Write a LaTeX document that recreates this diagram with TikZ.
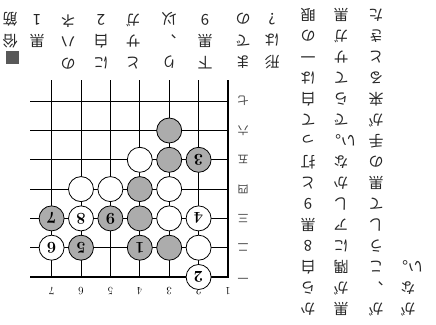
\documentclass[tikz,border=0pt]{standalone}
\usepackage{fontspec}
\newfontfamily\jp{Noto Sans CJK JP}
\begin{document}
\begin{tikzpicture}[x=1pt,y=-1pt,
  gridline/.style={line width=0.7pt},
  edgeline/.style={line width=1.9pt},
  wst/.style={circle, draw, line width=0.8pt, fill=white, minimum size=25pt, inner sep=0pt,
    font=\bfseries\fontsize{16.5}{16.5}\selectfont, rotate=180},
  bst/.style={wst, fill=gray!65},
  lbl/.style={inner sep=0pt, font=\fontsize{11}{11}\selectfont, rotate=180},
  rlbl/.style={inner sep=0pt, text=black!75, font=\jp\fontsize{11}{11}\selectfont, rotate=180},
  colt/.style={rotate=180, anchor=north, align=center, inner sep=0pt, text=black!85,
    font=\jp\fontsize{15}{21}\selectfont},
  capt/.style={rotate=180, anchor=north, align=center, inner sep=0pt, text=black!85,
    font=\jp\fontsize{15}{21.5}\selectfont},
]
\useasboundingbox (0,0) rectangle (436,324);
% board lines
\foreach \c in {2,...,7} \draw[gridline] ({228-29.4*(\c-1)},80) -- ({228-29.4*(\c-1)},277);
\foreach \r in {2,...,7} \draw[gridline] (30,{277-29.3*(\r-1)}) -- (228,{277-29.3*(\r-1)});
\draw[edgeline] (30,277) -- (228,277) -- (228,80);
% coordinates of points
\foreach \c in {1,...,7}
  \foreach \r in {1,...,7}
    \coordinate (p\c-\r) at ({228-29.4*(\c-1)},{277-29.3*(\r-1)});
% column labels
\foreach \c in {1,...,7} \node[lbl] (cl\c) at ({228-29.4*(\c-1)},291) {\c};
% row labels
\foreach \r/\k in {1/一,2/二,3/三,4/四,5/五,6/六,7/七}
  \node[rlbl] (rl\r) at (243,{277-29.3*(\r-1)}) {\k};
% stones
\node[bst] (s3a) at (p3-6) {};
\node[bst] (s3b) at (p3-5) {};
\node[bst] (m3) at (p2-5) {3};
\node[wst] (w45) at (p4-5) {};
\node[wst] (w64) at (p6-4) {};
\node[wst] (w54) at (p5-4) {};
\node[bst] (b44) at (p4-4) {};
\node[wst] (w34) at (p3-4) {};
\node[bst] (m7) at (p7-3) {7};
\node[wst] (m8) at (p6-3) {8};
\node[bst] (m9) at (p5-3) {9};
\node[bst] (b43) at (p4-3) {};
\node[wst] (w33) at (p3-3) {};
\node[wst] (m4) at (p2-3) {4};
\node[wst] (m6) at (p7-2) {6};
\node[bst] (m5) at (p6-2) {5};
\node[bst] (m1) at (p4-2) {1};
\node[bst] (b32) at (p3-2) {};
\node[wst] (w22) at (p2-2) {};
\node[wst] (m2) at (p2-1) {2};
% caption (upright reading: right column first)
\node[fill=gray!70!black, minimum size=13pt, inner sep=0pt] (box) at (12,57) {};
\node[capt] (c1) at (10,48) {俗\\筋};
\node[capt] (c2) at (37,48) {黒\\1};
\node[capt] (c3) at (68,69) {の\\ハ\\ネ};
\node[capt] (c4) at (101,69) {に\\白\\2};
\node[capt] (c5) at (133,69) {と\\サ\\ガ};
\node[capt] (c6) at (169,69) {り\\、\\以};
\node[capt] (c7) at (205,69) {下\\黒\\9};
\node[capt] (c8) at (243,69) {ま\\で\\の};
\node[capt] (c9) at (272,69) {形\\は\\?};
% commentary
\node[colt] (t1) at (308,316) {か\\ら\\白\\8\\黒\\9\\と\\打\\っ\\て\\白\\は\\一\\の\\眼};
\node[colt] (t2) at (341,316) {黒\\が\\隅\\に\\ア\\し\\か\\な\\い。\\で\\ら\\て\\サ\\ガ\\黒};
\node[colt] (t3) at (376,316) {が\\、\\こ\\う\\し\\て\\黒\\の\\手\\が\\来\\る\\と\\き\\た};
\node[colt] (t4) at (408,316) {が\\な\\い。};
\end{tikzpicture}
\end{document}
